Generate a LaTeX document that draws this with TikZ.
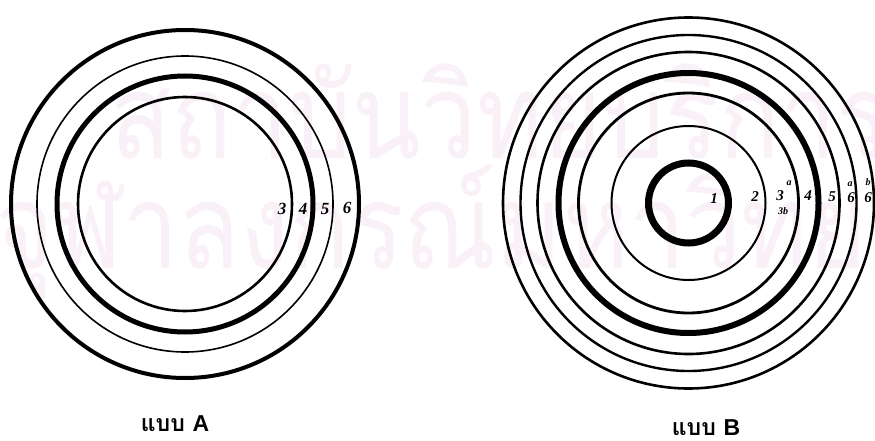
\documentclass[tikz,border=0pt]{standalone}
\usepackage{fontspec}
\newfontfamily\thaifont[Script=Thai]{Loma}
\newfontfamily\capsans{Liberation Sans}
\newfontfamily\labfont{Liberation Serif}
\definecolor{wmcol}{RGB}{250,240,248}
\tikzset{
  ring/.style={draw=black},
  lab/.style={inner sep=0pt, font=\labfont\bfseries\itshape\fontsize{17}{17}\selectfont},
  labB/.style={inner sep=0pt, font=\labfont\bfseries\itshape\fontsize{15}{15}\selectfont},
  labs/.style={inner sep=0pt, font=\labfont\bfseries\itshape\fontsize{10}{10}\selectfont},
  capt/.style={inner sep=0pt, anchor=base, font=\bfseries\fontsize{23}{23}\selectfont},
  wm/.style={inner sep=0pt, anchor=base west, text=wmcol, font=\thaifont\fontsize{118}{118}\selectfont}
}
\begin{document}
\begin{tikzpicture}[x=1pt,y=-1pt]
\useasboundingbox (0,0) rectangle (875,441);
\fill[white] (0,0) rectangle (875,441);
% watermark
\begin{scope}
\clip (0,0) rectangle (875,441);
\node[wm, xscale=0.85] (wm1) at (110,158) {สถาบันวิทยบริการ};
\node[wm, xscale=0.85] (wm2) at (-5,268) {จุฬาลงกรณ์มหาวิทยาลัย};
\end{scope}
% diagram A
\coordinate (ca) at (185,204);
\draw[ring, line width=4pt]   (ca) circle[radius=174pt];
\draw[ring, line width=1.6pt] (ca) circle[radius=148pt];
\draw[ring, line width=5pt]   (ca) circle[radius=128pt];
\draw[ring, line width=2.6pt] (ca) circle[radius=107pt];
\node[lab] (a3) at (282,209) {3};
\node[lab] (a4) at (303,209) {4};
\node[lab] (a5) at (325,209) {5};
\node[lab] (a6) at (347,208) {6};
% diagram B
\coordinate (cb) at (688.5,203);
\draw[ring, line width=7pt]   (cb) circle[radius=40pt];
\draw[ring, line width=2pt]   (cb) circle[radius=77pt];
\draw[ring, line width=2.8pt] (cb) circle[radius=110pt];
\draw[ring, line width=6pt]   (cb) circle[radius=130pt];
\draw[ring, line width=2.6pt] (cb) circle[radius=151pt];
\draw[ring, line width=2.4pt] (cb) circle[radius=168pt];
\draw[ring, line width=2.6pt] (cb) circle[radius=185.5pt];
\node[labB] (b1) at (714,199) {1};
\node[labB] (b2) at (755,197) {2};
\node[labB] (b3) at (780,196) {3};
\node[labs] (b3a) at (789,183) {a};
\node[labs] (b3b) at (783,211) {3b};
\node[labB] (b4) at (808,196) {4};
\node[labB] (b5) at (832,197) {5};
\node[labs] (b6a) at (850,184) {a};
\node[labB] (b6) at (851,198) {6};
\node[labs] (b6b) at (868,182) {b};
\node[labB] (b6x) at (868,198) {6};
% captions
\node[capt] (capA) at (175,431) {\thaifont แบบ\ \capsans A};
\node[capt] (capB) at (706,435) {\thaifont แบบ\ \capsans B};
\end{tikzpicture}
\end{document}
